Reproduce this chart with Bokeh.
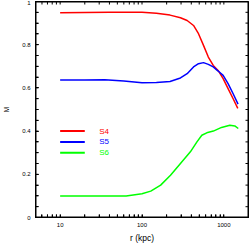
from bokeh.plotting import figure
from bokeh.models import Range1d, FixedTicker, BasicTickFormatter
from bokeh.core.properties import value
from bokeh.embed import file_html
from bokeh.resources import INLINE
import math

# ---- data ----
r_s4 = [10, 20, 40, 70, 100, 150, 220, 295, 356, 426, 490, 564, 646, 742, 851, 980, 1126, 1294, 1480]
m_s4 = [0.948, 0.949, 0.950, 0.950, 0.950, 0.946, 0.937, 0.925, 0.912, 0.889, 0.851, 0.797, 0.743,
        0.704, 0.681, 0.643, 0.597, 0.551, 0.505]

r_s5 = [10, 20, 35, 60, 100, 150, 220, 295, 356, 426, 490, 564, 646, 742, 851, 980, 1126, 1294, 1490]
m_s5 = [0.636, 0.637, 0.638, 0.632, 0.624, 0.625, 0.630, 0.646, 0.666, 0.697, 0.712, 0.717, 0.709,
        0.697, 0.678, 0.658, 0.620, 0.574, 0.525]

r_s6 = [10, 30, 64, 100, 128, 169, 223, 295, 390, 469, 538, 618, 744, 937, 1183, 1360, 1500]
m_s6 = [0.099, 0.099, 0.100, 0.110, 0.122, 0.150, 0.196, 0.250, 0.304, 0.350, 0.381, 0.392, 0.400,
        0.417, 0.427, 0.424, 0.412]

series_names = ["S4", "S5", "S6"]
series_colors = ["#ff0000", "#0000ff", "#00ff00"]

x_ticks = [10, 100, 1000]
x_tick_labels = ["10", "100", "1000"]
x_minor = [5, 6, 7, 8, 9, 20, 30, 40, 50, 60, 70, 80, 90,
           200, 300, 400, 500, 600, 700, 800, 900, 2000]
y_ticks = [0, 0.2, 0.4, 0.6, 0.8, 1]
y_tick_labels = ["0", "0.2", "0.4", "0.6", "0.8", "1"]
y_minor = [round(0.05 * i, 2) for i in range(21)]

# legend placement (the original draws its key inside the axes, in data units)
LEGEND_KEY_R = (10, 20)
LEGEND_TEXT_R = 30
LEGEND_M = [0.4, 0.35, 0.3]

X_MIN, X_MAX = 5, 2000
Y_MIN, Y_MAX = 0, 1
FONT = "Liberation Sans"

p = figure(width=249, height=246, x_axis_type="log",
           x_range=Range1d(X_MIN, X_MAX), y_range=Range1d(Y_MIN, Y_MAX),
           output_backend="svg", toolbar_location=None,
           min_border_left=32, min_border_right=1,
           min_border_top=1, min_border_bottom=29)
p.grid.visible = False
p.outline_line_color = "#000000"

xt = FixedTicker(ticks=x_ticks, minor_ticks=x_minor)
yt = FixedTicker(ticks=y_ticks, minor_ticks=y_minor)

for ax in (p.xaxis[0], p.yaxis[0]):
    ax.axis_line_color = "#000000"
    ax.major_tick_in = 3
    ax.major_tick_out = 0
    ax.minor_tick_in = 3
    ax.minor_tick_out = 0
    ax.major_tick_line_color = "#000000"
    ax.minor_tick_line_color = "#000000"
    ax.major_label_text_font = FONT
    ax.major_label_text_font_size = "6px"
    ax.major_label_text_color = "#000000"
    ax.major_label_standoff = 5
    ax.axis_label_text_font = FONT
    ax.axis_label_text_font_style = "normal"
    ax.axis_label_text_color = "#000000"

xa = p.xaxis[0]
xa.ticker = xt
xa.formatter = BasicTickFormatter()
xa.major_label_overrides = dict(zip(x_tick_labels, x_tick_labels))
xa.axis_label = "r (kpc)"
xa.axis_label_text_font_size = "8.5px"
xa.axis_label_standoff = 3

ya = p.yaxis[0]
ya.ticker = yt
ya.major_label_overrides = {lab: lab for lab in y_tick_labels}
ya.axis_label = "M"
ya.axis_label_text_font_size = "6.5px"
ya.axis_label_standoff = 9

# ---- frame and inward ticks on all four sides, drawn as glyphs (clipped to the frame) ----
p.quad(left=[X_MIN], right=[X_MAX], bottom=[Y_MIN], top=[Y_MAX],
       fill_color=None, line_color="#000000", line_width=2)
xt_all = sorted(x_ticks + x_minor)
p.scatter(xt_all * 2, [Y_MIN] * len(xt_all) + [Y_MAX] * len(xt_all),
          marker="dash", angle=math.pi / 2, size=6, line_color="#000000", line_width=1)
p.scatter([X_MIN] * len(y_minor) + [X_MAX] * len(y_minor), y_minor * 2,
          marker="dash", size=6, line_color="#000000", line_width=1)

# ---- curves ----
for rr, mm, c in zip([r_s4, r_s5, r_s6], [m_s4, m_s5, m_s6], series_colors):
    p.line(rr, mm, line_color=c, line_width=1.5)

# ---- legend: coloured key lines and coloured labels ----
p.segment(x0=[LEGEND_KEY_R[0]] * 3, y0=LEGEND_M, x1=[LEGEND_KEY_R[1]] * 3, y1=LEGEND_M,
          line_color=series_colors, line_width=2)
p.text(x=[LEGEND_TEXT_R] * 3, y=LEGEND_M, text=series_names, text_color=series_colors,
       text_font=value(FONT), text_font_size=value("8px"), text_baseline="middle",
       text_align="left")

open("out.html", "w").write(file_html(p, INLINE))
